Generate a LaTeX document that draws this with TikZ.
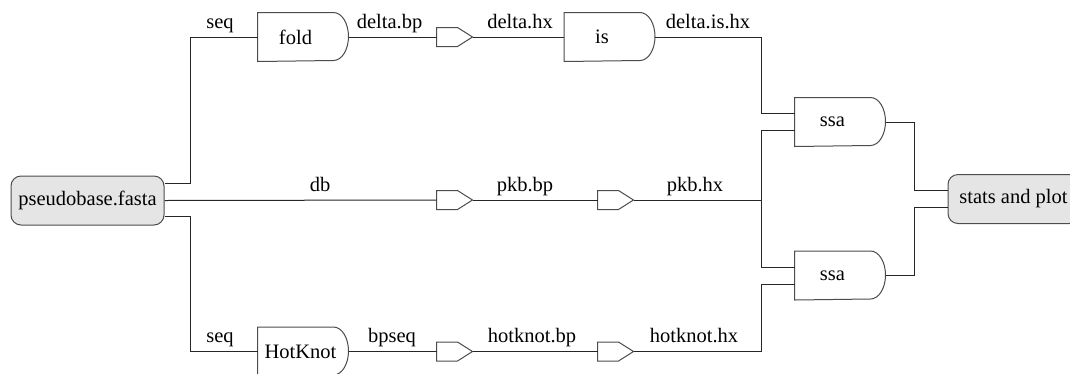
\documentclass[tikz,border=0pt]{standalone}
\usepackage{fontspec}
\setmainfont{Liberation Serif}
\newfontfamily\timesfont{Liberation Serif}
\begin{document}
\begin{tikzpicture}[x=1pt,y=-1pt, line width=1pt,
  every node/.style={font=\timesfont\fontsize{20.5}{24}\selectfont},
  gate/.style={minimum width=75pt, minimum height=48pt, inner sep=0pt},
  pent/.style={minimum width=35pt, minimum height=18pt, inner sep=0pt},
  term/.style={draw=black!70, fill=black!10, rounded corners=10pt, minimum height=49pt, inner sep=0pt},
  lab/.style={anchor=base, inner sep=0pt},
  wire/.style={draw=black!85},
  outline/.style={draw=black!70, fill=white}]
\useasboundingbox (0,0) rectangle (1070,373);

% terminals
\node[term, minimum width=153pt] (pseudo) at (87.5,200.5) {pseudobase.fasta};
\node[term, minimum width=131pt] (stats) at (1013.5,199) {stats and plot};

% gates (rectangular part; rounded end drawn below)
\node[gate] (fold) at (295.5,37) {};
\node[gate] (is) at (602,37) {};
\node[gate] (ssaA) at (832.5,122) {};
\node[gate] (ssaB) at (832.5,275.5) {};
\node[gate] (hk) at (295.5,351.5) {};
\foreach \g in {fold,is,ssaA,ssaB,hk}
  \draw[outline] (\g.north west) -- (\g.north east)
    arc[start angle=90,end angle=-90,x radius=15pt,y radius=24pt]
    -- (\g.south west) -- cycle;
\node (tfold) at (fold) {fold};
\node (tis) at (is) {is};
\node (tssaA) at (ssaA) {ssa};
\node (tssaB) at (ssaB) {ssa};
\node (thk) at ([xshift=5pt]hk.center) {HotKnot};

% pentagons
\node[pent] (pt) at (454.5,37) {};
\node[pent] (pm1) at (454.5,200) {};
\node[pent] (pm2) at (615.5,200) {};
\node[pent] (pb1) at (454.5,351.5) {};
\node[pent] (pb2) at (615.5,351.5) {};
\foreach \p in {pt,pm1,pm2,pb1,pb2}
  \draw[outline] (\p.north west) -- ([xshift=-15pt]\p.north east) -- (\p.east)
    -- ([xshift=-15pt]\p.south east) -- (\p.south west) -- cycle;

% helper coordinates
\coordinate (lx) at (190,200);
\coordinate (jx) at (761,200);
\coordinate (kx) at (914,200);
\coordinate (a1) at ([yshift=8.5pt]ssaA.west);
\coordinate (a2) at ([yshift=-8.5pt]ssaA.west);
\coordinate (b1) at ([yshift=8.5pt]ssaB.west);
\coordinate (b2) at ([yshift=-8.5pt]ssaB.west);
\coordinate (s1) at ([yshift=8.5pt]stats.west);
\coordinate (s2) at ([yshift=-8.5pt]stats.west);

% wires
\draw[wire] ([yshift=17pt]pseudo.east) -| (lx |- fold.west) -- (fold.west);
\draw[wire] (pseudo.east) -- (pm1.west);
\draw[wire] ([yshift=-16pt]pseudo.east) -| (lx |- hk.west) -- (hk.west);
\draw[wire] ([xshift=15pt]fold.east) -- (pt.west);
\draw[wire] (pt.east) -- (is.west);
\draw[wire] ([xshift=15pt]is.east) -| (jx |- a1) -- (a1);
\draw[wire] (pm1.east) -- (pm2.west);
\draw[wire] (pm2.east) -- (jx);
\draw[wire] (a2) -- (jx |- a2) -- (jx |- b1) -- (b1);
\draw[wire] ([xshift=15pt]hk.east) -- (pb1.west);
\draw[wire] (pb1.east) -- (pb2.west);
\draw[wire] (pb2.east) -| (jx |- b2) -- (b2);
\draw[wire] ([xshift=15pt]ssaA.east) -| (kx |- s1) -- (s1);
\draw[wire] ([xshift=15pt]ssaB.east) -| (kx |- s2) -- (s2);

% labels
\node[lab] (l1) at (220,28) {seq};
\node[lab] (l2) at (389.5,28) {delta.bp};
\node[lab] (l3) at (520,28) {delta.hx};
\node[lab] (l4) at (708,28) {delta.is.hx};
\node[lab] (l5) at (320,191) {db};
\node[lab] (l6) at (525,191) {pkb.bp};
\node[lab] (l7) at (695,191) {pkb.hx};
\node[lab] (l8) at (220,342.5) {seq};
\node[lab] (l9) at (392,342.5) {bpseq};
\node[lab] (l10) at (532,342.5) {hotknot.bp};
\node[lab] (l11) at (694,342.5) {hotknot.hx};
\end{tikzpicture}
\end{document}
